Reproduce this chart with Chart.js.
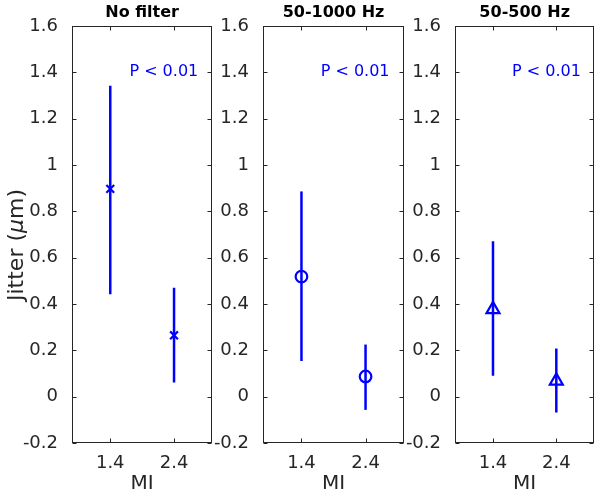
<!DOCTYPE html>
<html>
<head>
<meta charset="utf-8">
<script src="https://cdn.jsdelivr.net/npm/chart.js@4/dist/chart.umd.min.js"></script>
<style>
  html, body { margin: 0; padding: 0; background: #ffffff; }
  #wrap { position: relative; width: 604px; height: 498px; overflow: hidden; background: #fff; }
  canvas { position: absolute; top: 0; }
</style>
</head>
<body>
<div id="wrap">
  <canvas id="c0" width="220" height="498" style="left:0px"></canvas>
  <canvas id="c1" width="202" height="498" style="left:210px"></canvas>
  <canvas id="c2" width="202" height="498" style="left:402px"></canvas>
</div>
<script>
// ---- data ----
const categories = [1.4, 2.4];                     // MI
const panelTitles = ['No filter', '50-1000 Hz', '50-500 Hz'];
const meanNoFilter = [0.897, 0.265];
const lowNoFilter  = [0.442, 0.061];
const highNoFilter = [1.342, 0.470];
const mean1000 = [0.518, 0.087];
const low1000  = [0.154, -0.057];
const high1000 = [0.886, 0.225];
const mean500 = [0.377, 0.068];
const low500  = [0.090, -0.068];
const high500 = [0.671, 0.208];
const yTicks = [-0.2, 0, 0.2, 0.4, 0.6, 0.8, 1, 1.2, 1.4, 1.6];
const pLabel = 'P < 0.01';
const yLabelParts = ['Jitter (', '\u03bc', 'm)'];
const markerStyles = ['crossRot', 'circle', 'triangle'];

const means = [meanNoFilter, mean1000, mean500];
const lows = [lowNoFilter, low1000, low500];
const highs = [highNoFilter, high1000, high500];

const BLUE = '#0000ff';
const AXIS = '#262626';
const FONT = 'DejaVu Sans';

const boxPlugin = {
  id: 'boxTicks',
  beforeDatasetsDraw(chart) {
    const { ctx, chartArea: a, scales: { x, y } } = chart;
    ctx.save();
    ctx.strokeStyle = AXIS;
    ctx.lineWidth = 1;
    const L = Math.round(a.left) + 0.5, R = Math.round(a.right) - 0.5;
    const T = Math.round(a.top) + 0.5, B = Math.round(a.bottom) - 0.5;
    ctx.strokeRect(L, T, R - L, B - T);
    const tl = 4;
    ctx.beginPath();
    y.ticks.forEach(t => {
      const py = Math.round(y.getPixelForValue(t.value)) + 0.5;
      ctx.moveTo(L, py); ctx.lineTo(L + tl, py);
      ctx.moveTo(R, py); ctx.lineTo(R - tl, py);
    });
    x.ticks.forEach(t => {
      const px = Math.round(x.getPixelForValue(t.value)) + 0.5;
      ctx.moveTo(px, B); ctx.lineTo(px, B - tl);
      ctx.moveTo(px, T); ctx.lineTo(px, T + tl);
    });
    ctx.stroke();
    ctx.restore();
  },
  afterDatasetsDraw(chart, args, opts) {
    const { ctx, chartArea: a, scales: { x, y } } = chart;
    ctx.save();
    // P-value annotation
    ctx.fillStyle = BLUE;
    ctx.font = '16px "' + FONT + '"';
    ctx.textAlign = 'left';
    ctx.textBaseline = 'middle';
    ctx.fillText(opts.text, x.getPixelForValue(opts.x), y.getPixelForValue(opts.y));
    // panel title
    ctx.fillStyle = '#000000';
    ctx.font = 'bold 16px "' + FONT + '"';
    ctx.textAlign = 'center';
    ctx.fillText(opts.title, (a.left + a.right) / 2, 13);
    // y-axis label (first panel only)
    if (opts.yLabel) {
      ctx.translate(17, 245);
      ctx.rotate(-Math.PI / 2);
      ctx.fillStyle = AXIS;
      const f1 = '22px "' + FONT + '"', f2 = 'italic 22px "' + FONT + '"';
      ctx.font = f1; const w0 = ctx.measureText(yLabelParts[0]).width;
      const w2 = ctx.measureText(yLabelParts[2]).width;
      ctx.font = f2; const w1 = ctx.measureText(yLabelParts[1]).width;
      let xs = -(w0 + w1 + w2) / 2;
      ctx.textAlign = 'left';
      ctx.font = f1; ctx.fillText(yLabelParts[0], xs, 0); xs += w0;
      ctx.font = f2; ctx.fillText(yLabelParts[1], xs, 0); xs += w1;
      ctx.font = f1; ctx.fillText(yLabelParts[2], xs, 0);
    }
    ctx.restore();
  }
};

function makePanel(i, canvasId, yAxisWidth, rightPad) {
  const datasets = [];
  categories.forEach((c, k) => {
    datasets.push({
      data: [{ x: c, y: lows[i][k] }, { x: c, y: highs[i][k] }],
      showLine: true,
      borderColor: BLUE,
      borderWidth: 2.5,
      pointRadius: 0,
      borderCapStyle: 'butt'
    });
  });
  datasets.push({
    data: categories.map((c, k) => ({ x: c, y: means[i][k] })),
    showLine: false,
    pointStyle: markerStyles[i],
    pointRadius: markerStyles[i] === 'triangle' ? 7.5 : (markerStyles[i] === 'circle' ? 5.8 : 5.5),
    borderColor: BLUE,
    backgroundColor: 'rgba(0,0,0,0)',
    pointBorderWidth: 2.2,
    borderWidth: 2.2
  });

  new Chart(document.getElementById(canvasId), {
    type: 'scatter',
    data: { datasets },
    plugins: [boxPlugin],
    options: {
      responsive: false,
      animation: false,
      events: [],
      layout: { padding: { right: rightPad, left: 0, top: 26, bottom: 0 } },
      plugins: {
        legend: { display: false },
        tooltip: { enabled: false },
        title: { display: false },
        boxTicks: { text: pLabel, x: 1.7, y: 1.4, title: panelTitles[i], yLabel: i === 0 }
      },
      scales: {
        x: {
          type: 'linear',
          min: 0.8, max: 3.0,
          afterBuildTicks: s => { s.ticks = categories.map(v => ({ value: v })); },
          afterFit: s => { s.height = 55; },
          grid: { display: false },
          border: { display: false },
          ticks: {
            color: AXIS,
            font: { family: FONT, size: 18 },
            padding: 2,
            maxRotation: 0,
            callback: v => v.toFixed(1)
          },
          title: {
            display: true, text: 'MI', color: AXIS,
            font: { family: FONT, size: 20 },
            padding: { top: 2, bottom: 2 }
          }
        },
        y: {
          type: 'linear',
          min: -0.2, max: 1.6,
          afterBuildTicks: s => { s.ticks = yTicks.map(v => ({ value: v })); },
          afterFit: s => { s.width = yAxisWidth; },
          grid: { display: false },
          border: { display: false },
          ticks: {
            color: AXIS,
            font: { family: FONT, size: 18 },
            padding: 6,
            callback: v => String(Number(v.toFixed(1)))
          },
          title: { display: false }
        }
      }
    }
  });
}

makePanel(0, 'c0', 72, 7);
makePanel(1, 'c1', 53, 7);
makePanel(2, 'c2', 53, 9);
</script>
</body>
</html>
